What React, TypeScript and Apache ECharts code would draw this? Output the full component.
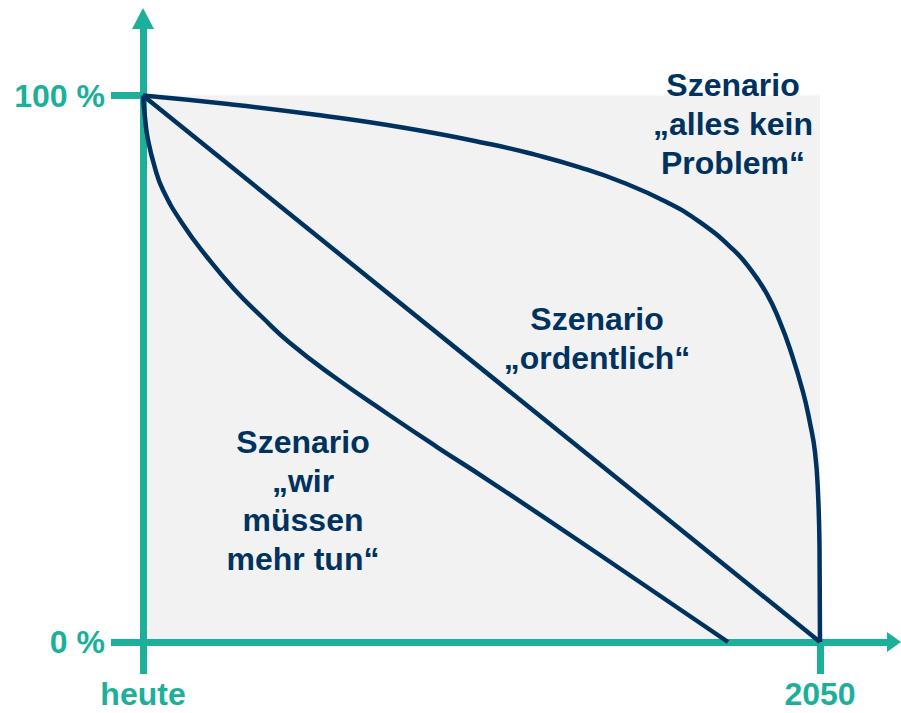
import React, { useEffect, useRef } from "react";
import * as echarts from "echarts";

// ---- data ----
const xTickValues = [0, 100];
const xTickLabels = ["heute", "2050"];
const yTickValues = [0, 100];
const yTickLabels = ["0 %", "100 %"];

const scenarioNames = [
  "Szenario „alles kein Problem“",
  "Szenario „ordentlich“",
  "Szenario „wir müssen mehr tun“",
];

const allesKeinProblem: [number, number][] = [
  [0, 100], [12.56, 98.44], [25.55, 96.47], [38.55, 94.09], [51.4, 91.07],
  [57.9, 89.17], [64.4, 86.9], [70.9, 84.08], [77.4, 80.46], [82.27, 76.82],
  [87.15, 71.84], [89.66, 68.31], [92.17, 63.66], [94.09, 58.55],
  [95.57, 53.61], [97.49, 45.75], [98.52, 40.07], [99.26, 34.77],
  [99.7, 27.45], [99.93, 16.83], [100, 0],
];

const ordentlich: [number, number][] = [
  [0, 100], [100, 0],
];

const wirMuessenMehrTun: [number, number][] = [
  [0, 100], [0.3, 95.88], [0.74, 91.86], [1.77, 86.73], [2.95, 82.71],
  [5.76, 76.67], [9.45, 70.45], [13.44, 64.59], [17.58, 59.47],
  [21.71, 54.71], [28.06, 48.67], [36.04, 41.81], [43.43, 35.68],
  [50.96, 29.64], [67.5, 15.92], [86.41, 0],
];

const annotationTexts = [
  "Szenario\n„alles kein\nProblem“",
  "Szenario\n„ordentlich“",
  "Szenario\n„wir\nmüssen\nmehr tun“",
];

// ---- styling / layout ----
const W = 901;
const H = 713;
const TEAL = "#1caf9a";
const NAVY = "#00325f";
const GREY = "#f2f2f2";
const FONT = '"Liberation Sans", Arial, sans-serif';

// pixel layout of the axes
const X0 = 143, X100 = 820; // x=0 and x=100 pixel positions
const Y0 = 642, Y100 = 95.5; // y=0 and y=100 pixel positions
const gridLeft = 112, gridRight = 894, gridTop = 18.5, gridBottom = 670;
const pxX = (X100 - X0) / 100;
const pxY = (Y0 - Y100) / 100;
const xMin = -(X0 - gridLeft) / pxX;
const xMax = (gridRight - X0) / pxX;
const yMin = -(gridBottom - Y0) / pxY;
const yMax = (Y0 - gridTop) / pxY;

export default function App() {
  const ref = useRef<HTMLDivElement>(null);

  useEffect(() => {
    document.body.style.margin = "0";
    if (!ref.current) return;
    const chart = echarts.init(ref.current, undefined, { renderer: "svg" });

    const lineSeries = (name: string, data: [number, number][]) => ({
      name,
      type: "line",
      data,
      smooth: 0.5,
      showSymbol: false,
      symbol: "none",
      z: 10,
      lineStyle: { color: NAVY, width: 4.5, cap: "butt", join: "round" },
      silent: true,
    });

    const axisLabelStyle = {
      color: TEAL,
      fontFamily: FONT,
      fontWeight: "bold",
      fontSize: 32,
    };

    chart.setOption({
      animation: false,
      backgroundColor: "#ffffff",
      grid: {
        left: gridLeft,
        right: W - gridRight,
        top: gridTop,
        bottom: H - gridBottom,
        containLabel: false,
        outerBoundsMode: "none",
      },
      xAxis: {
        type: "value",
        min: xMin,
        max: xMax,
        z: 5,
        splitLine: { show: false },
        axisLine: {
          show: true,
          onZero: true,
          symbol: ["none", "triangle"],
          symbolSize: [20, 14],
          lineStyle: { color: TEAL, width: 7, cap: "butt" },
        },
        axisTick: {
          show: true,
          customValues: xTickValues,
          length: 32,
          inside: false,
          lineStyle: { color: TEAL, width: 7 },
        },
        axisLabel: {
          show: true,
          customValues: xTickValues,
          margin: 8,
          hideOverlap: false,
          formatter: (v: number) => xTickLabels[xTickValues.indexOf(v)] ?? "",
          ...axisLabelStyle,
        },
      },
      yAxis: {
        type: "value",
        min: yMin,
        max: yMax,
        z: 5,
        splitLine: { show: false },
        axisLine: {
          show: true,
          onZero: true,
          symbol: ["none", "triangle"],
          symbolSize: [22, 21],
          lineStyle: { color: TEAL, width: 7, cap: "butt" },
        },
        axisTick: {
          show: true,
          customValues: yTickValues,
          length: 32,
          inside: false,
          lineStyle: { color: TEAL, width: 7 },
        },
        axisLabel: {
          show: true,
          customValues: yTickValues,
          margin: 7,
          hideOverlap: false,
          formatter: (v: number) => yTickLabels[yTickValues.indexOf(v)] ?? "",
          ...axisLabelStyle,
        },
      },
      series: [
        {
          name: "background",
          type: "line",
          data: [],
          z: 1,
          silent: true,
          markArea: {
            z: 1,
            silent: true,
            itemStyle: { color: GREY },
            data: [[{ coord: [0, 0] }, { coord: [100, 100] }]],
          },
        },
        lineSeries(scenarioNames[0], allesKeinProblem),
        lineSeries(scenarioNames[1], ordentlich),
        lineSeries(scenarioNames[2], wirMuessenMehrTun),
      ],
      graphic: [
        { x: 733, y: 124 },
        { x: 597, y: 338 },
        { x: 303, y: 500 },
      ].map((p, i) => ({
        type: "text",
        x: p.x,
        y: p.y,
        z: 20,
        silent: true,
        style: {
          text: annotationTexts[i],
          fill: NAVY,
          font: `bold 32px ${FONT}`,
          align: "center",
          verticalAlign: "middle",
          textAlign: "center",
          textVerticalAlign: "middle",
          lineHeight: 39,
        },
      })),
    });

    return () => chart.dispose();
  }, []);

  return <div ref={ref} style={{ width: W, height: H }} />;
}
